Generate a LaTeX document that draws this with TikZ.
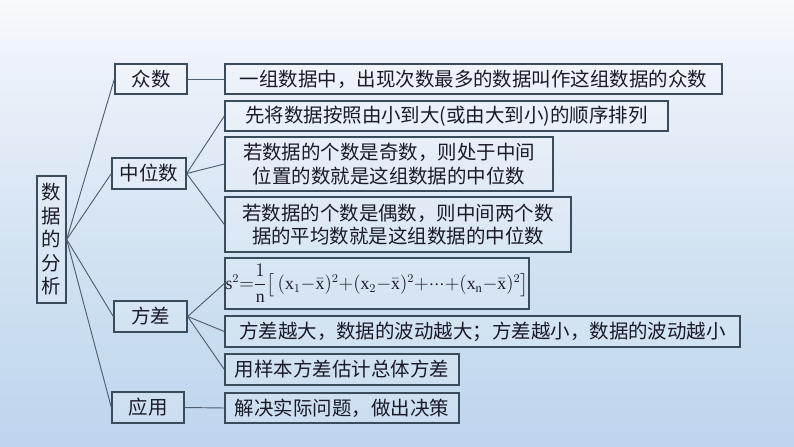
\documentclass[tikz,border=0pt]{standalone}
\usepackage{amsmath}
\usepackage{fontspec}
\setmainfont{Noto Sans CJK SC}
\setmathrm{Liberation Serif}
\definecolor{bgtop}{HTML}{F8FAFD}
\definecolor{bgmid}{HTML}{EDF2FA}
\definecolor{bgbot}{HTML}{BDD5ED}
\definecolor{bgmid2}{HTML}{D2E2F2}
\definecolor{boxline}{HTML}{3A4B5C}
\definecolor{conline}{HTML}{4F5F70}
\definecolor{txt}{HTML}{1A1A28}
\tikzset{
  box/.style={draw=boxline, line width=1pt, fill=white, fill opacity=0.18, text opacity=1,
    inner sep=0pt, align=center, text=txt,
    font=\fontsize{14.6pt}{17.6pt}\selectfont},
  con/.style={draw=conline, line width=0.7pt}
}
\begin{document}
\begin{tikzpicture}[x=0.75pt,y=-0.75pt]
\useasboundingbox (0,0) rectangle (794,447);
\shade[top color=bgtop, bottom color=bgmid] (0,0) rectangle (794,60);
\shade[top color=bgmid, bottom color=bgbot, middle color=bgmid2] (0,60) rectangle (794,447);

% root
\node[box, minimum width=21.75pt, minimum height=95.25pt] (root) at (51.5,239.5) {数\\据\\的\\分\\析};

% level 1
\node[box, minimum width=54pt, minimum height=22.5pt] (zs) at (151,79) {众数};
\node[box, minimum width=55.5pt, minimum height=23.25pt] (zw) at (149,173.5) {中位数};
\node[box, minimum width=54.75pt, minimum height=23.25pt] (fc) at (150.5,316.5) {方差};
\node[box, minimum width=54pt, minimum height=23.25pt] (yy) at (148,407.5) {应用};

% level 2
\node[box, minimum width=372.75pt, minimum height=22.5pt] (b1) at (473.5,79) {一组数据中，出现次数最多的数据叫作这组数据的众数};
\node[box, minimum width=332.25pt, minimum height=22.5pt] (b2) at (446.5,116) {先将数据按照由小到大(或由大到小)的顺序排列};
\node[box, minimum width=246pt, minimum height=40.5pt] (b3) at (389,164) {若数据的个数是奇数，则处于中间\\位置的数就是这组数据的中位数};
\node[box, minimum width=259.5pt, minimum height=41.25pt] (b4) at (398,224.5) {若数据的个数是偶数，则中间两个数\\据的平均数就是这组数据的中位数};
\node[box, minimum width=228pt, minimum height=38.25pt, font=\fontsize{13.3pt}{16pt}\selectfont] (b5) at (377,283.5)
  {$\medmuskip=0.5mu\thickmuskip=0.5mu\mathrm{s}^{2}{=}\dfrac{1}{\mathrm{n}}\bigl[\,(\mathrm{x}_{1}{-}\bar{\mathrm{x}})^{2}{+}(\mathrm{x}_{2}{-}\bar{\mathrm{x}})^{2}{+}{\cdot}{\cdot}{\cdot}{+}(\mathrm{x}_{\mathrm{n}}{-}\bar{\mathrm{x}})^{2}\bigr]$};
\node[box, minimum width=386.25pt, minimum height=23.25pt] (b6) at (482.5,331.5) {方差越大，数据的波动越大；方差越小，数据的波动越小};
\node[box, minimum width=175.5pt, minimum height=23.25pt] (b7) at (342,369.5) {用样本方差估计总体方差};
\node[box, minimum width=175.5pt, minimum height=22.5pt] (b8) at (342,408) {解决实际问题，做出决策};

% connectors
\foreach \t in {zs,zw,fc,yy} \draw[con] (root.east) -- (\t.west);
\draw[con] (zs.east) -- (b1.west);
\foreach \t in {b2,b3,b4} \draw[con] (zw.east) -- (\t.west);
\foreach \t in {b5,b6,b7} \draw[con] (fc.east) -- (\t.west);
\draw[con] (yy.east) -- (b8.west);
\end{tikzpicture}
\end{document}
